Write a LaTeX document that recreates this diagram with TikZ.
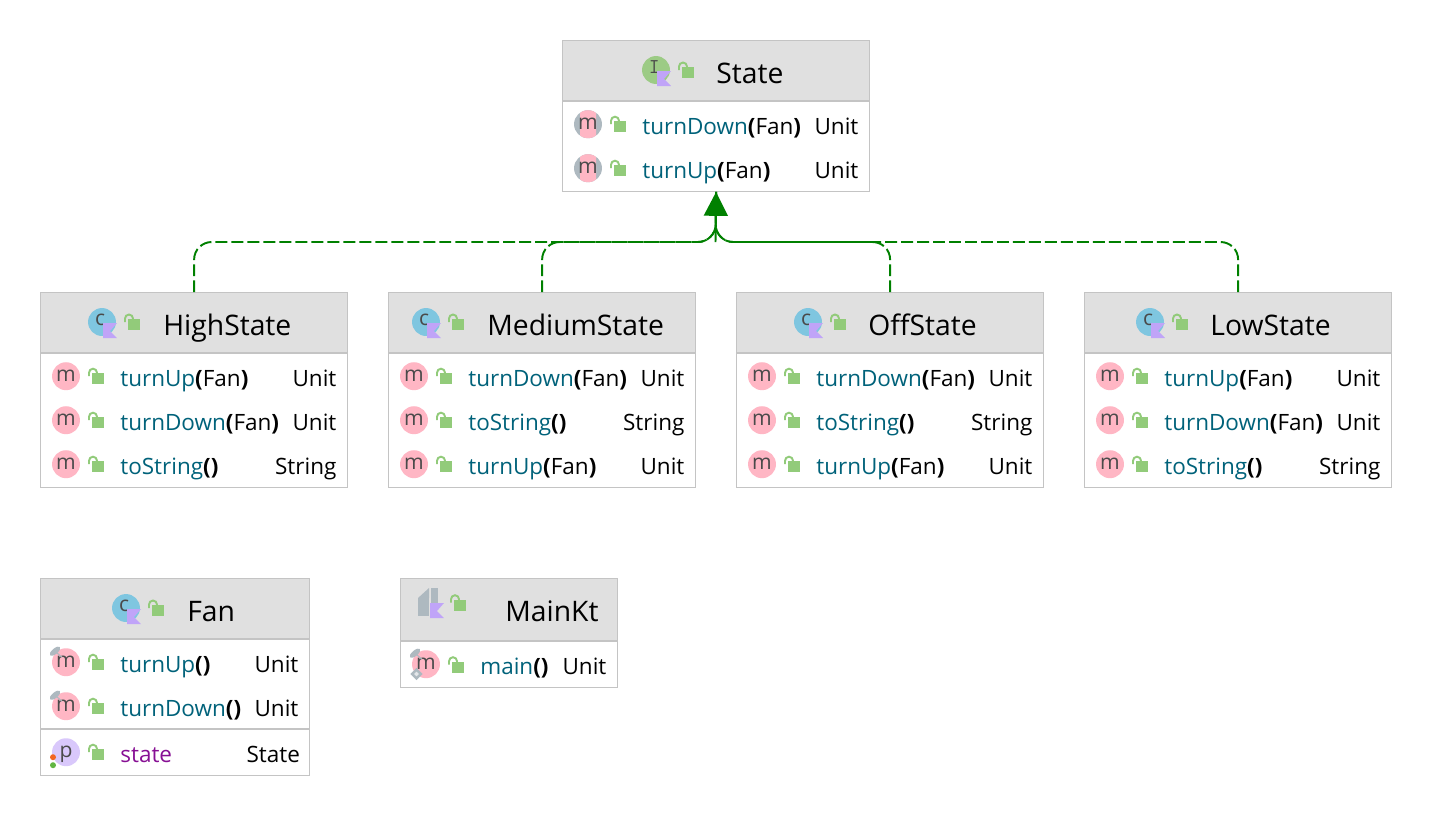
\documentclass[tikz,border=0pt]{standalone}
\usepackage{fontspec}
\setmainfont{Open Sans}
\usepackage{xcolor}
\usetikzlibrary{arrows.meta,calc,shapes.geometric}
\definecolor{boxline}{HTML}{C4C4C4}
\definecolor{headfill}{HTML}{E0E0E0}
\definecolor{mpink}{HTML}{FFB6C4}
\definecolor{pviolet}{HTML}{D9C8FB}
\definecolor{cblue}{HTML}{7FC6E0}
\definecolor{igreen}{HTML}{9CCB85}
\definecolor{flagviolet}{HTML}{C0A4F8}
\definecolor{lockgreen}{HTML}{92CB7A}
\definecolor{namecol}{HTML}{00627A}
\definecolor{propcol}{HTML}{871094}
\definecolor{icongray}{HTML}{AEB9C0}
\definecolor{letter}{HTML}{4A4A4A}
\definecolor{realizecol}{HTML}{008000}
\definecolor{dotorange}{HTML}{F26522}
\definecolor{dotgreen}{HTML}{62B543}
\tikzset{
    classbox/.style={draw=boxline,line width=0.7pt,fill=white,inner sep=0pt,anchor=north west},
    headbar/.style={fill=headfill},
    sepline/.style={draw=boxline,line width=1.2pt},
    classtitle/.style={anchor=base west,inner sep=0pt,font=\fontsize{16.1}{18}\selectfont},
    rowtext/.style={anchor=base west,inner sep=0pt,font=\fontsize{12.8}{15}\selectfont},
    rowtype/.style={anchor=base east,inner sep=0pt,font=\fontsize{12.8}{15}\selectfont},
    iconball/.style={circle,minimum size=15.9pt,inner sep=0pt,text=letter,text height=6.4pt,text depth=0pt,font=\fontsize{12}{12}\selectfont},
    pinblob/.style={ellipse,fill=icongray,minimum width=7.4pt,minimum height=3.2pt,inner sep=0pt,rotate=40},
    realize/.style={draw=realizecol,line width=1.1pt,dash pattern=on 6.8pt off 2.3pt,rounded corners=10pt},
    realizehead/.style={draw=realizecol,line width=1.1pt,-{Triangle[length=13.6pt,width=13.6pt,fill=realizecol]}},
}
% open padlock, #1 = row centre at the shackle's left edge
\newcommand{\lockicon}[1]{
    \fill[lockgreen] ($#1+(4,-3)$) rectangle ($#1+(16,8)$);
    \draw[lockgreen,line width=1.1pt] ($#1+(1,0)$) -- ($#1+(1,-3.5)$) arc (180:360:4) -- ($#1+(9,-2)$);
}
% violet flag in the corner of a class icon
\newcommand{\flagicon}[1]{
    \fill[flagviolet] ($#1+(1,1)$) -- ($#1+(15,1)$) -- ($#1+(8,9)$) -- ($#1+(15,16)$) -- ($#1+(1,16)$) -- cycle;
}
% frame and header: [rule offset], name, left, top, width, height, title offset
\newcommand{\classframe}[7][61]{
    \node[classbox,minimum width=#5*0.02cm,minimum height=#6*0.02cm] (#2) at (#3,#4) {};
    \fill[headbar] ($(#2.north west)+(1,1)$) rectangle ($(#2.north east)+(-1,#1-1)$);
    \draw[sepline] ($(#2.north west)+(1,#1)$) -- ($(#2.north east)+(-1,#1)$);
    \node[classtitle] (#2-title) at ($(#2.north west)+(#7,43.5)$) {#2};
}
\newcommand{\classicon}[4]{
    \node[iconball,fill=#3] (#1-icon) at #2 {\raisebox{1pt}{#4}\kern2pt};
    \flagicon{#2}
    \lockicon{($#2+(22,0)$)}
}
% box, row, offset, method, argument, type
\newcommand{\methodrow}[6]{
    \node[iconball,fill=mpink] (#1-m#2) at ($(#1.north west)+(26,#3)$) {m};
    \lockicon{($(#1.north west)+(48,#3)$)}
    \node[rowtext] (#1-n#2) at ($(#1.north west)+(80,#3+10)$) {\textcolor{namecol}{#4}\textbf{(}#5\textbf{)}};
    \node[rowtype] (#1-t#2) at ($(#1.north east)+(-11.5,#3+10)$) {#6};
}
\newcommand{\abstractrow}[5]{
    \node[iconball,fill=icongray] (#1-a#2) at ($(#1.north west)+(26,#3)$) {};
    \begin{scope}
        \clip ($(#1-a#2.center)+(-8,-14)$) rectangle ($(#1-a#2.center)+(8,14)$);
        \fill[mpink] (#1-a#2.center) circle [radius=14];
    \end{scope}
    \node[iconball] (#1-m#2) at ($(#1.north west)+(26,#3)$) {m};
    \lockicon{($(#1.north west)+(48,#3)$)}
    \node[rowtext] (#1-n#2) at ($(#1.north west)+(80,#3+10)$) {\textcolor{namecol}{#4}\textbf{(}Fan\textbf{)}};
    \node[rowtype] (#1-t#2) at ($(#1.north east)+(-11.5,#3+10)$) {#5};
}
\newcommand{\wrenchmark}[1]{
    \node[pinblob] (#1-pin) at ($(#1.center)+(-11,-11)$) {};
    \draw[icongray,line width=0.6pt] (#1-pin.center) -- ($(#1.center)+(-4,-5)$);
}
\begin{document}
\begin{tikzpicture}[x=0.02cm,y=-0.02cm]
    \useasboundingbox (0,0) rectangle (1432,816);

    % Interface
    \classframe{State}{562}{40.2}{307}{150.5}{154}
    \classicon{State}{(656,70)}{igreen}{\texttt{I}}
    \abstractrow{State}{1}{84}{turnDown}{Unit}
    \abstractrow{State}{2}{128}{turnUp}{Unit}

    % Implementations
    \classframe{HighState}{40}{292.2}{307}{194.5}{123}
    \classicon{HighState}{(102,322)}{cblue}{c}
    \methodrow{HighState}{1}{84}{turnUp}{Fan}{Unit}
    \methodrow{HighState}{2}{128}{turnDown}{Fan}{Unit}
    \methodrow{HighState}{3}{172}{toString}{}{String}

    \classframe{MediumState}{388}{292.2}{307}{194.5}{99}
    \classicon{MediumState}{(426,322)}{cblue}{c}
    \methodrow{MediumState}{1}{84}{turnDown}{Fan}{Unit}
    \methodrow{MediumState}{2}{128}{toString}{}{String}
    \methodrow{MediumState}{3}{172}{turnUp}{Fan}{Unit}

    \classframe{OffState}{736}{292.2}{307}{194.5}{132}
    \classicon{OffState}{(808,322)}{cblue}{c}
    \methodrow{OffState}{1}{84}{turnDown}{Fan}{Unit}
    \methodrow{OffState}{2}{128}{toString}{}{String}
    \methodrow{OffState}{3}{172}{turnUp}{Fan}{Unit}

    \classframe{LowState}{1084}{292.2}{307}{194.5}{126}
    \classicon{LowState}{(1150,322)}{cblue}{c}
    \methodrow{LowState}{1}{84}{turnUp}{Fan}{Unit}
    \methodrow{LowState}{2}{128}{turnDown}{Fan}{Unit}
    \methodrow{LowState}{3}{172}{toString}{}{String}

    % Fan
    \classframe{Fan}{40}{578.2}{269}{196.5}{147}
    \classicon{Fan}{(126,608)}{cblue}{c}
    \methodrow{Fan}{1}{84}{turnUp}{}{Unit}
    \methodrow{Fan}{2}{128}{turnDown}{}{Unit}
    \wrenchmark{Fan-m1}
    \wrenchmark{Fan-m2}
    \draw[sepline] ($(Fan.north west)+(1,150.5)$) -- ($(Fan.north east)+(-1,150.5)$);
    \node[iconball,fill=pviolet] (Fan-p) at ($(Fan.north west)+(26,174)$) {p};
    \fill[dotorange] ($(Fan-p.center)+(-13,5)$) circle [radius=3];
    \fill[dotgreen] ($(Fan-p.center)+(-13,13)$) circle [radius=3];
    \lockicon{($(Fan.north west)+(48,174)$)}
    \node[rowtext,text=propcol] (Fan-n3) at ($(Fan.north west)+(80,184)$) {state};
    \node[rowtype] (Fan-t3) at ($(Fan.north east)+(-10,184)$) {State};

    % File class
    \classframe[63]{MainKt}{400}{578.2}{217}{108.5}{105}
    \fill[icongray] (418,598) -- (429,588) -- (429,598) -- cycle;
    \fill[icongray] (418,598) rectangle (429,616);
    \fill[icongray] (431,588) rectangle (438,603);
    \flagicon{(429,602)}
    \lockicon{($(MainKt.north west)+(50,24.5)$)}
    \node[iconball,fill=mpink] (MainKt-m1) at ($(MainKt.north west)+(26,86)$) {m};
    \wrenchmark{MainKt-m1}
    \node[draw=icongray,line width=1.4pt,diamond,aspect=1,inner sep=1.4pt,fill=icongray!35] (MainKt-d) at (416.5,674) {};
    \lockicon{($(MainKt.north west)+(48,86.5)$)}
    \node[rowtext] (MainKt-n1) at ($(MainKt.north west)+(80,96.5)$) {\textcolor{namecol}{main}\textbf{(}\textbf{)}};
    \node[rowtype] (MainKt-t1) at ($(MainKt.north east)+(-11.5,96.5)$) {Unit};

    % Realizations
    \coordinate (bus) at (715.5,242);
    \draw[realize] (HighState.north) |- (bus) -- (State.south);
    \draw[realize] (MediumState.north) |- (bus) -- (State.south);
    \draw[realize] (OffState.north) |- (bus) -- (State.south);
    \draw[realize] (LowState.north) |- (bus) -- (State.south);
    \draw[realizehead] (bus) -- (State.south);
\end{tikzpicture}
\end{document}
